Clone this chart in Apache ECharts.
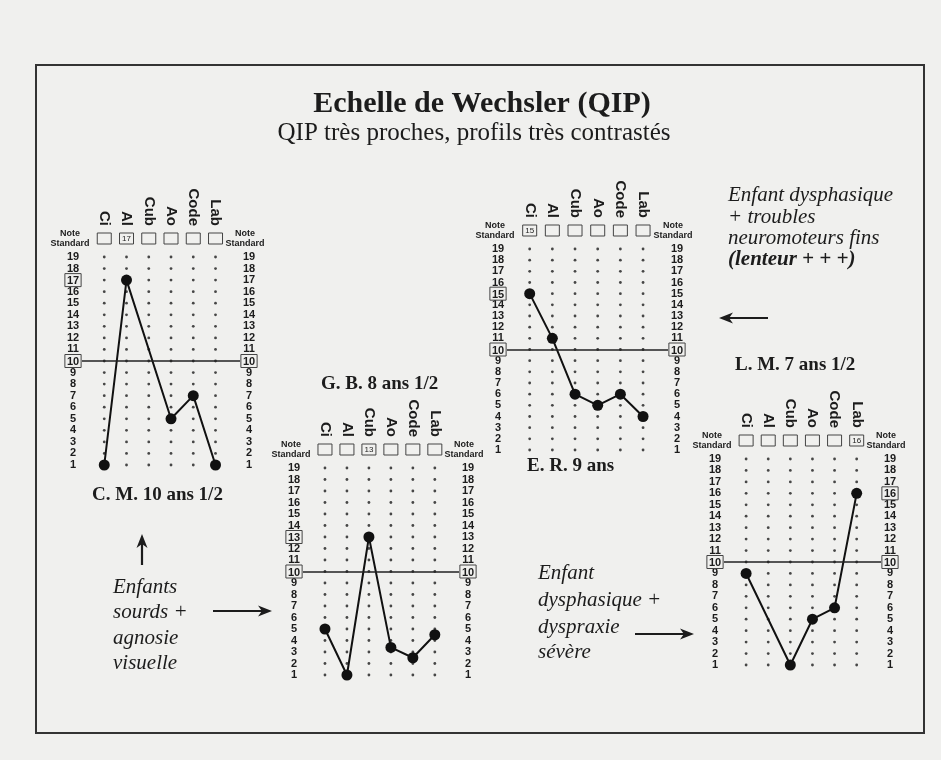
<!DOCTYPE html>
<html><head><meta charset="utf-8">
<script src="https://cdn.jsdelivr.net/npm/echarts@6/dist/echarts.min.js"></script>
<style>html,body{margin:0;padding:0;background:#f0f0ee}#c{width:941px;height:760px}</style>
</head><body><div id="c"></div>
<script>
// ---------- data ----------
const categories = ['Ci', 'Al', 'Cub', 'Ao', 'Code', 'Lab'];
const tickLabels = [1, 2, 3, 4, 5, 6, 7, 8, 9, 10, 11, 12, 13, 14, 15, 16, 17, 18, 19];
const referenceValue = 10;
const cmValues = [1, 17, null, 5, 7, 1];
const gbValues = [5, 1, 13, 3.4, 2.5, 4.5];
const erValues = [15, 11, 6, 5, 6, 4];
const lmValues = [9, null, 1, 5, 6, 16];
const cmBoxedLeft = [10, 17], cmBoxedRight = [10];
const gbBoxedLeft = [10, 13], gbBoxedRight = [10];
const erBoxedLeft = [10, 15], erBoxedRight = [10];
const lmBoxedLeft = [10], lmBoxedRight = [10, 16];
const panelNames = ['C. M. 10 ans 1/2', 'G. B. 8 ans 1/2', 'E. R. 9 ans', 'L. M. 7 ans 1/2'];
const mainTitle = 'Echelle de Wechsler (QIP)';
const subTitle = 'QIP très proches, profils très contrastés';
const noteLabel = 'Note\nStandard';
const textA = ['Enfants', 'sourds +', 'agnosie', 'visuelle'];
const textB = ['Enfant', 'dysphasique +', 'dyspraxie', 'sévère'];
const textC = ['Enfant dysphasique', '+ troubles', 'neuromoteurs fins'];
const textCBold = '(lenteur + + +)';

// ---------- layout ----------
const panels = [
  { values: cmValues, boxL: cmBoxedLeft, boxR: cmBoxedRight, grid: { left: 82, top: 257, width: 158, height: 208 } },
  { values: gbValues, boxL: gbBoxedLeft, boxR: gbBoxedRight, grid: { left: 303, top: 468, width: 156, height: 207 } },
  { values: erValues, boxL: erBoxedLeft, boxR: erBoxedRight, grid: { left: 507, top: 249, width: 161, height: 201 } },
  { values: lmValues, boxL: lmBoxedLeft, boxR: lmBoxedRight, grid: { left: 724, top: 459, width: 157, height: 206 } }
];
const SANS = '"Liberation Sans", Arial, sans-serif';
const SERIF = '"Liberation Serif", "Times New Roman", serif';
const INK = '#1c1c1c';

const grids = [], xAxes = [], yAxes = [], series = [], graphic = [];
panels.forEach((p, k) => {
  grids.push(Object.assign({ containLabel: false }, p.grid));
  const maxV = Math.max(...p.values.filter(v => v != null));
  const isCol = v => Number.isInteger(v) && v >= 0 && v < categories.length;
  // boxes row
  xAxes.push({
    type: 'value', gridIndex: k, position: 'top', min: -1, max: 6.1, interval: 1,
    axisLine: { show: false }, axisTick: { show: false }, splitLine: { show: false },
    axisLabel: {
      margin: 13, hideOverlap: false,
      formatter: v => isCol(v) ? (p.values[v] === maxV ? '{bx|' + maxV + '}' : '{bx| }') : '',
      rich: { bx: { width: 14, height: 11, lineHeight: 11, align: 'center', fontSize: 8, fontFamily: SANS, color: INK,
        borderColor: '#444', borderWidth: 1 } }
    }
  });
  // category names
  xAxes.push({
    type: 'value', gridIndex: k, position: 'top', min: -1, max: 6.1, interval: 1,
    axisLine: { show: false }, axisTick: { show: false }, splitLine: { show: false },
    axisLabel: {
      margin: 31, rotate: 90, hideOverlap: false,
      formatter: v => isCol(v) ? categories[v] : '',
      fontFamily: SANS, fontWeight: 'bold', fontSize: 15, color: INK
    }
  });
  const yLab = boxed => ({
    margin: 9, align: 'center', hideOverlap: false,
    formatter: v => boxed.includes(v) ? '{b|' + v + '}' : '{n|' + v + '}',
    rich: {
      n: { fontFamily: SANS, fontWeight: 'bold', fontSize: 11, color: INK },
      b: { fontFamily: SANS, fontWeight: 'bold', fontSize: 11, color: INK, borderColor: '#444', borderWidth: 1, padding: [2, 2, 0, 2] }
    }
  });
  const yBase = (pos, boxed) => ({
    type: 'value', gridIndex: k, position: pos, min: 1, max: 19, interval: 1,
    axisLine: { show: false }, axisTick: { show: false }, splitLine: { show: false },
    axisLabel: yLab(boxed)
  });
  yAxes.push(yBase('left', p.boxL));
  yAxes.push(yBase('right', p.boxR));

  // "Note Standard" headers beside the box row
  const g = p.grid;
  [[g.left - 12, 'center'], [g.left + g.width + 5, 'center']].forEach(([x, al]) => graphic.push({
    type: 'text', x, y: g.top - 8,
    style: { text: noteLabel, font: 'bold 9px ' + SANS, lineHeight: 10, fill: INK, textAlign: al, textVerticalAlign: 'bottom' }
  }));

  const dots = [];
  categories.forEach((c, i) => tickLabels.forEach(t => dots.push([i, t])));
  series.push({
    type: 'scatter', xAxisIndex: 2 * k, yAxisIndex: 2 * k, data: dots, symbol: 'circle', symbolSize: 2.8,
    itemStyle: { color: INK }, silent: true, z: 1
  });
  series.push({
    type: 'line', xAxisIndex: 2 * k, yAxisIndex: 2 * k,
    data: p.values.map((v, i) => v == null ? null : [i, v]).filter(d => d),
    symbol: 'circle', symbolSize: 11, showAllSymbol: true,
    lineStyle: { color: '#111', width: 2 }, itemStyle: { color: '#111' }, z: 3, silent: true,
    markLine: { silent: true, symbol: ['none', 'none'], label: { show: false },
      lineStyle: { color: '#222', width: 1.6, type: 'solid' }, data: [{ yAxis: referenceValue }] }
  });
});

// ---------- decorations ----------
graphic.push({ type: 'rect', shape: { x: 36, y: 65, width: 888, height: 668 }, style: { fill: 'none', stroke: '#333', lineWidth: 2 }, z: 0 });
const txt = (text, x, y, font, align) => graphic.push({ type: 'text', x, y,
  style: { text, font, fill: INK, textAlign: align || 'left', textVerticalAlign: 'middle' } });
txt(mainTitle, 482, 104, 'bold 30px ' + SERIF, 'center');
txt(subTitle, 474, 133, '25px ' + SERIF, 'center');
txt(panelNames[0], 92, 495, 'bold 19px ' + SERIF);
txt(panelNames[1], 321, 384, 'bold 19px ' + SERIF);
txt(panelNames[2], 527, 466, 'bold 19px ' + SERIF);
txt(panelNames[3], 735, 365, 'bold 19px ' + SERIF);
[587, 612, 638, 663].forEach((y, i) => txt(textA[i], 113, y, 'italic 21px ' + SERIF));
[573, 600, 627, 652].forEach((y, i) => txt(textB[i], 538, y, 'italic 21px ' + SERIF));
[195, 217, 238].forEach((y, i) => txt(textC[i], 728, y, 'italic 21px ' + SERIF));
txt(textCBold, 728, 260, 'italic bold 21px ' + SERIF);

function arrow(x1, y1, x2, y2) {
  const dx = x2 - x1, dy = y2 - y1, L = Math.hypot(dx, dy), ux = dx / L, uy = dy / L;
  const hl = 14, hw = 5.5;
  const bx = x2 - ux * hl, by = y2 - uy * hl;
  graphic.push({ type: 'line', shape: { x1, y1, x2: x2 - ux * 8, y2: y2 - uy * 8 }, style: { stroke: INK, lineWidth: 2.2 } });
  graphic.push({ type: 'polygon', shape: { points: [[x2, y2], [bx - uy * hw, by + ux * hw], [x2 - ux * hl * 0.72, y2 - uy * hl * 0.72], [bx + uy * hw, by - ux * hw]] },
    style: { fill: INK } });
}
arrow(142, 565, 142, 534);
arrow(213, 611, 272, 611);
arrow(635, 634, 694, 634);
arrow(768, 318, 719, 318);

const chart = echarts.init(document.getElementById('c'), null, { renderer: 'canvas' });
chart.setOption({
  backgroundColor: '#f0f0ee', animation: false,
  grid: grids, xAxis: xAxes, yAxis: yAxes, series, graphic
});
</script></body></html>
